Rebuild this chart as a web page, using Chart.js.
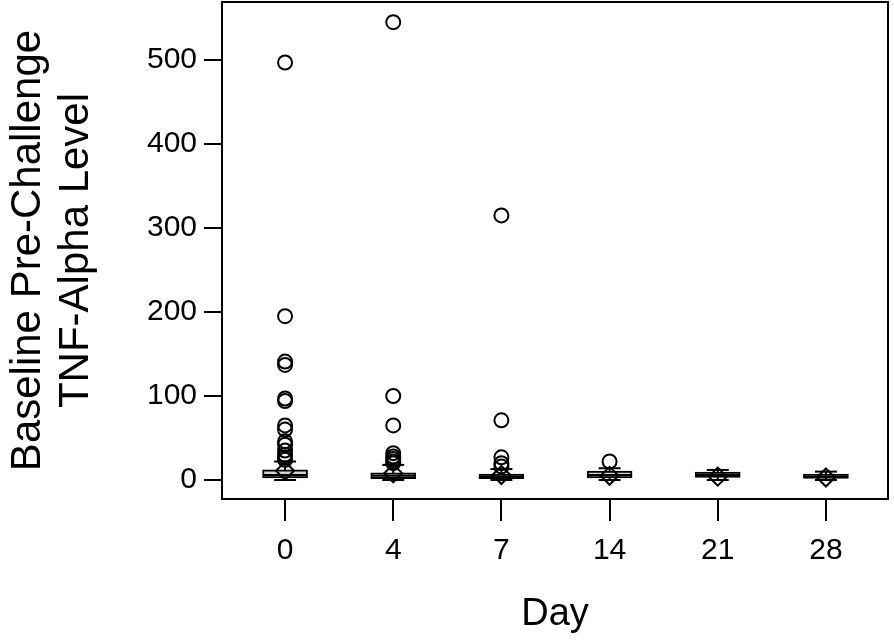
<!DOCTYPE html>
<html>
<head>
<meta charset="utf-8">
<script src="https://cdn.jsdelivr.net/npm/chart.js@4"></script>
<style>
  html, body { margin: 0; padding: 0; background: #fff; }
  #wrap { width: 894px; height: 643px; }
</style>
</head>
<body>
<div id="wrap"><canvas id="tnf-chart"></canvas></div>
<script>
// Day categories and box plot summary values
const days = ["0", "4", "7", "14", "21", "28"];
const q1 = [2.5, 1.5, 1.5, 2.5, 3, 2];
const medians = [6, 5, 4, 6, 6, 4];
const q3 = [12, 8.5, 7, 10.5, 9.5, 7];
const whiskerLow = [0, 0, 0, 0, 0, 0];
const whiskerHigh = [22, 18, 13, 14, 12, 10];
const means = [11, 8, 6, 5, 4, 3];
const outliers = [
  [497, 195, 141, 137, 97, 94, 65, 60, 46, 42, 35, 30, 27, 24],
  [545, 100, 65, 32, 28, 25, 22, 20],
  [315, 71, 27, 20, 16],
  [22],
  [],
  [],
];
const yTicks = [0, 100, 200, 300, 400, 500];

const fontFamily = "'Liberation Sans', Arial, sans-serif";

// points for the scatter-style layers
const boxData = days.map((d, i) => ({ x: i, y: [q1[i], q3[i]] }));
const medianData = days.map((d, i) => ({ x: i, y: medians[i] }));
const meanData = days.map((d, i) => ({ x: i, y: means[i] }));
const capData = [];
const whiskerData = [];
days.forEach((d, i) => {
  capData.push({ x: i, y: whiskerLow[i] }, { x: i, y: whiskerHigh[i] });
  whiskerData.push({ x: i, y: whiskerLow[i] }, { x: i, y: whiskerHigh[i] }, { x: i, y: null });
});
const outlierData = [];
outliers.forEach((list, i) => list.forEach((v) => outlierData.push({ x: i, y: v })));

// frame around the plot area
const framePlugin = {
  id: "frame",
  afterDraw(chart) {
    const { ctx, chartArea: a } = chart;
    ctx.save();
    ctx.strokeStyle = "#000";
    ctx.lineWidth = 2;
    ctx.strokeRect(a.left, a.top, a.right - a.left, a.bottom - a.top);
    ctx.restore();
  },
};

const ctx = document.getElementById("tnf-chart").getContext("2d");
new Chart(ctx, {
  data: {
    datasets: [
      {
        type: "line",
        data: whiskerData,
        borderColor: "#000",
        borderWidth: 2,
        pointRadius: 0,
        spanGaps: false,
        order: 6,
      },
      {
        type: "bar",
        data: boxData,
        backgroundColor: "#d4d4d4",
        borderColor: "#000",
        borderWidth: 2,
        borderSkipped: false,
        barThickness: 45,
        order: 5,
      },
      {
        type: "scatter",
        data: medianData,
        pointStyle: "line",
        pointRadius: 22,
        borderColor: "#000",
        borderWidth: 2,
        order: 4,
      },
      {
        type: "scatter",
        data: capData,
        pointStyle: "line",
        pointRadius: 11,
        borderColor: "#000",
        borderWidth: 2,
        order: 3,
      },
      {
        type: "scatter",
        data: meanData,
        pointStyle: "rectRot",
        pointRadius: 9,
        backgroundColor: "rgba(0,0,0,0)",
        borderColor: "#000",
        borderWidth: 2,
        order: 2,
      },
      {
        type: "scatter",
        data: outlierData,
        pointStyle: "circle",
        pointRadius: 7,
        backgroundColor: "rgba(0,0,0,0)",
        borderColor: "#000",
        borderWidth: 2,
        order: 1,
      },
    ],
  },
  options: {
    responsive: true,
    maintainAspectRatio: false,
    animation: false,
    layout: { autoPadding: false, padding: { left: 0, right: 6, top: 2, bottom: 0 } },
    plugins: {
      legend: { display: false },
      tooltip: { enabled: false },
    },
    scales: {
      x: {
        type: "linear",
        offset: false,
        min: -0.583,
        max: 5.574,
        afterBuildTicks: (scale) => {
          scale.ticks = days.map((d, i) => ({ value: i }));
        },
        afterFit: (scale) => {
          scale.height = 144;
          scale.paddingLeft = 0;
          scale.paddingRight = 0;
        },
        border: { display: false },
        grid: {
          offset: false,
          drawOnChartArea: false,
          drawTicks: true,
          tickLength: 22,
          tickColor: "#000",
          lineWidth: 2,
        },
        ticks: {
          color: "#000",
          font: { family: fontFamily, size: 30 },
          padding: 12,
          maxRotation: 0,
          callback: (value) => days[value],
        },
        title: {
          display: true,
          text: "Day",
          color: "#000",
          font: { family: fontFamily, size: 38 },
          padding: { top: 0, bottom: 6 },
        },
      },
      y: {
        type: "linear",
        min: -22.6,
        max: 569,
        afterBuildTicks: (scale) => {
          scale.ticks = yTicks.map((v) => ({ value: v }));
        },
        afterFit: (scale) => {
          scale.width = 222;
          scale.paddingTop = 0;
          scale.paddingBottom = 0;
        },
        border: { display: false },
        grid: {
          drawOnChartArea: false,
          drawTicks: true,
          tickLength: 18,
          tickColor: "#000",
          lineWidth: 2,
        },
        ticks: {
          color: "#000",
          font: { family: fontFamily, size: 30 },
          padding: 7,
        },
        title: {
          display: true,
          text: ["Baseline Pre-Challenge", "TNF-Alpha Level"],
          color: "#000",
          font: { family: fontFamily, size: 42, lineHeight: 1.143 },
          padding: { top: 4, bottom: 0 },
        },
      },
    },
  },
  plugins: [framePlugin],
});
</script>
</body>
</html>
